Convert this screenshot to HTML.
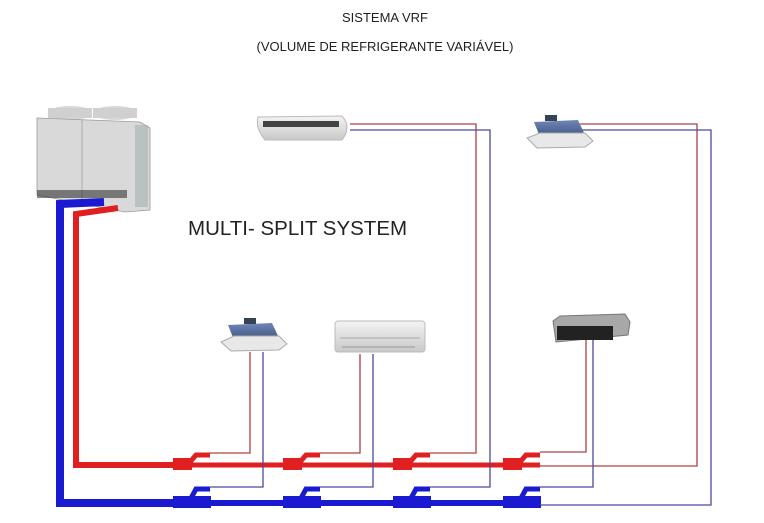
<!DOCTYPE html>
<html><head><meta charset="utf-8"><style>
html,body{margin:0;padding:0;background:#fff;}
svg{display:block;}
text{font-family:"Liberation Sans",sans-serif;fill:#222;}
</style></head><body>
<svg width="764" height="523" viewBox="0 0 764 523" xmlns="http://www.w3.org/2000/svg">
<defs>
<linearGradient id="g1" x1="0" y1="0" x2="0" y2="1"><stop offset="0" stop-color="#f4f4f4"/><stop offset="1" stop-color="#c8c8c8"/></linearGradient>
<linearGradient id="g2" x1="0" y1="0" x2="0" y2="1"><stop offset="0" stop-color="#6f86b8"/><stop offset="1" stop-color="#3f557f"/></linearGradient>
</defs>
<text x="385" y="22" font-size="13" text-anchor="middle">SISTEMA VRF</text>
<text x="385" y="51" font-size="13" text-anchor="middle">(VOLUME DE REFRIGERANTE VARIÁVEL)</text>
<text x="188" y="235" font-size="20.5">MULTI- SPLIT SYSTEM</text>

<!-- outdoor unit -->
<ellipse cx="70" cy="113" rx="22" ry="7" fill="#d8d8d8"/>
<ellipse cx="115" cy="113" rx="22" ry="7" fill="#d8d8d8"/>
<rect x="48" y="108" width="44" height="10" fill="#d0d0d0"/>
<rect x="93" y="108" width="44" height="10" fill="#d0d0d0"/>
<polygon points="37,118 140,122 150,128 150,210 125,212 37,195" fill="#d9d9d9" stroke="#999" stroke-width="0.8"/>
<line x1="82" y1="120" x2="82" y2="200" stroke="#aaa"/>
<rect x="135" y="125" width="13" height="82" fill="#9aa" opacity="0.5"/>
<rect x="37" y="190" width="90" height="8" fill="#333" opacity="0.6"/>
<!-- thick main pipes -->
<polyline points="104,202 60,204 60,503 175,503" fill="none" stroke="#1a1ad0" stroke-width="8"/>
<polyline points="118,208 76,214 76,465 175,465" fill="none" stroke="#e02020" stroke-width="6"/>
<line x1="175" y1="465" x2="540" y2="465" stroke="#e02020" stroke-width="5"/>
<line x1="175" y1="503" x2="540" y2="503" stroke="#1a1ad0" stroke-width="6"/>
<!-- joints -->
<g id="j">
<rect x="173" y="458" width="19" height="12" fill="#e02020"/>
<polyline points="190,462 196,455 210,455" fill="none" stroke="#e02020" stroke-width="5"/>
<rect x="173" y="496" width="38" height="12" fill="#1a1ad0"/>
<polyline points="190,500 196,489 210,489" fill="none" stroke="#1a1ad0" stroke-width="5"/>
</g>
<use href="#j" x="110"/><use href="#j" x="220"/><use href="#j" x="330"/>
<!-- thin lines -->
<g fill="none" stroke-width="1.3">
<polyline points="210,453 250,453 250,352" stroke="#b04040"/>
<polyline points="210,487 263,487 263,352" stroke="#4a4a9a"/>
<polyline points="320,453 360,453 360,354" stroke="#b04040"/>
<polyline points="320,487 373,487 373,354" stroke="#4a4a9a"/>
<polyline points="430,453 476,453 476,124 350,124" stroke="#b04040"/>
<polyline points="430,487 490,487 490,130 350,130" stroke="#4a4a9a"/>
<polyline points="540,452 586,452 586,340" stroke="#b04040"/>
<polyline points="540,466 697,466 697,124 580,124" stroke="#b04040"/>
<polyline points="540,487 593,487 593,340" stroke="#4a4a9a"/>
<polyline points="540,505 711,505 711,130 580,130" stroke="#4a4a9a"/>
</g>
<!-- ceiling unit -->
<path d="M258,117 L342,116 Q352,127 342,140 L265,140 Q255,128 258,117 Z" fill="url(#g1)" stroke="#bbb"/>
<rect x="263" y="121" width="76" height="6" fill="#444"/>
<!-- cassette 2 -->
<polygon points="534,122 578,120 585,135 540,137" fill="url(#g2)"/>
<polygon points="527,138 540,133 585,133 593,141 585,147 537,148" fill="#e8e8e8" stroke="#aaa"/>
<rect x="545" y="115" width="12" height="6" fill="#345"/>
<!-- cassette 1 -->
<polygon points="228,325 272,323 279,338 234,340" fill="url(#g2)"/>
<polygon points="221,342 234,336 279,336 287,344 279,350 231,351" fill="#e8e8e8" stroke="#aaa"/>
<rect x="244" y="318" width="12" height="6" fill="#345"/>
<!-- wall split -->
<rect x="335" y="321" width="90" height="31" rx="3" fill="url(#g1)" stroke="#bbb"/>
<line x1="340" y1="338" x2="420" y2="338" stroke="#aaa"/>
<line x1="342" y1="347" x2="415" y2="347" stroke="#999"/>
<!-- duct -->
<polygon points="553,321 560,316 625,314 630,322 628,335 556,342" fill="#a8a8a8" stroke="#777"/>
<rect x="557" y="326" width="56" height="14" fill="#222"/>
</svg>
</body></html>
